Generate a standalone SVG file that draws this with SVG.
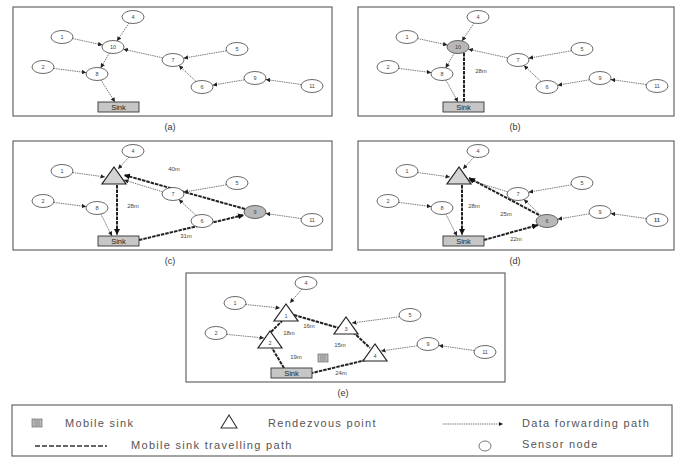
<svg xmlns="http://www.w3.org/2000/svg" width="682" height="459" viewBox="0 0 682 459">
<defs>
<style>
.frame{fill:#fff;stroke:#666;stroke-width:1.2}
.data{stroke:#444;stroke-width:.7;stroke-dasharray:1.5 .8;fill:none;marker-end:url(#arr)}
.travel{stroke:#222;stroke-width:2;stroke-dasharray:3.5 1;fill:none}
.tarrow{marker-end:url(#tarr)}
.sn{fill:#fff;stroke:#444;stroke-width:.8}
.ms{fill:#b8b8b8;stroke:#444;stroke-width:.8}
.rp{fill:#d4d4d4;stroke:#222;stroke-width:1.2}
.rpw{fill:#fff;stroke:#222;stroke-width:1.2}
.sink{fill:#c6c6c6;stroke:#333;stroke-width:.9}
.nl{font-family:"Liberation Sans",Arial,sans-serif;font-size:5.5px;fill:#444;text-anchor:middle}
.sl{font-family:"Liberation Sans",Arial,sans-serif;font-size:7.5px;fill:#222;text-anchor:middle}
.dl{font-family:"Liberation Sans",Arial,sans-serif;font-size:6px;fill:#444;text-anchor:middle}
.cap{font-family:"Liberation Sans",Arial,sans-serif;font-size:9px;fill:#333;text-anchor:middle}
.lg{font-family:"Liberation Sans",Arial,sans-serif;font-size:11px;fill:#555;letter-spacing:1.3px}
</style>
<marker id="arr" viewBox="0 0 6 6" refX="6" refY="3" markerWidth="4.5" markerHeight="4.5" markerUnits="userSpaceOnUse" orient="auto"><path d="M0,0 L6,3 L0,6 z" fill="#222"/></marker>
<marker id="tarr" viewBox="0 0 6 6" refX="6" refY="3" markerWidth="6" markerHeight="6" markerUnits="userSpaceOnUse" orient="auto"><path d="M0,0 L6,3 L0,6 z" fill="#111"/></marker>
<g id="msicon"><rect x="-5" y="-4" width="10" height="8" fill="#bbb" stroke="#555" stroke-width=".6"/><path d="M-3,-2 H3 M-3,0 H3 M-3,2 H3" stroke="#666" stroke-width=".5"/></g>
</defs>
<rect width="682" height="459" fill="#fff"/>

<!-- Panel (a) -->
<g id="panel-a">
<rect class="frame" x="13" y="7" width="319" height="109"/>
<text class="cap" x="170" y="130">(a)</text>
<g id="a-connectors">
<line class="data" x1="72.5" y1="38.5" x2="102.5" y2="45"/>
<line class="data" x1="129" y1="23" x2="117" y2="41"/>
<line class="data" x1="162.6" y1="57.8" x2="123.4" y2="49.2"/>
<line class="data" x1="109.4" y1="53.1" x2="100.6" y2="67.9"/>
<line class="data" x1="53.8" y1="68.4" x2="86.2" y2="72.6"/>
<line class="data" x1="100.9" y1="80.1" x2="115" y2="102"/>
<line class="data" x1="226.4" y1="50.8" x2="183.6" y2="58.2"/>
<line class="data" x1="196.1" y1="81.5" x2="178.9" y2="65.5"/>
<line class="data" x1="244.4" y1="79.8" x2="212.6" y2="85.2"/>
<line class="data" x1="301.2" y1="84.5" x2="265.8" y2="79.5"/>
</g>
<g id="a-n4"><ellipse class="sn" cx="133" cy="17" rx="11" ry="6.5"/><text class="nl" x="133" y="19">4</text></g>
<g id="a-n1"><ellipse class="sn" cx="62" cy="37" rx="11" ry="6.5"/><text class="nl" x="62" y="39">1</text></g>
<g id="a-n10"><ellipse class="sn" cx="113" cy="47" rx="11" ry="6.5"/><text class="nl" x="113" y="49">10</text></g>
<g id="a-n2"><ellipse class="sn" cx="43" cy="67" rx="11" ry="6.5"/><text class="nl" x="43" y="69">2</text></g>
<g id="a-n8"><ellipse class="sn" cx="97" cy="74" rx="11" ry="6.5"/><text class="nl" x="97" y="76">8</text></g>
<g id="a-n7"><ellipse class="sn" cx="173" cy="60" rx="11" ry="6.5"/><text class="nl" x="173" y="62">7</text></g>
<g id="a-n5"><ellipse class="sn" cx="237" cy="49" rx="11" ry="6.5"/><text class="nl" x="237" y="51">5</text></g>
<g id="a-n6"><ellipse class="sn" cx="202" cy="87" rx="11" ry="6.5"/><text class="nl" x="202" y="89">6</text></g>
<g id="a-n9"><ellipse class="sn" cx="255" cy="78" rx="11" ry="6.5"/><text class="nl" x="255" y="80">9</text></g>
<g id="a-n11"><ellipse class="sn" cx="312" cy="86" rx="11" ry="6.5"/><text class="nl" x="312" y="88">11</text></g>
<g id="a-sink"><rect class="sink" x="98" y="102" width="41" height="10"/><text class="sl" x="118.5" y="109.8">Sink</text></g>
</g>

<!-- Panel (b) -->
<g id="panel-b" transform="translate(345,0)">
<rect class="frame" x="13" y="7" width="316" height="109"/>
<text class="cap" x="170" y="130">(b)</text>
<g id="b-connectors">
<line class="data" x1="72.5" y1="38.5" x2="102.5" y2="45"/>
<line class="data" x1="129" y1="23" x2="117" y2="41"/>
<line class="data" x1="162.6" y1="57.8" x2="123.4" y2="49.2"/>
<line class="data" x1="109.4" y1="53.1" x2="100.6" y2="67.9"/>
<line class="data" x1="53.8" y1="68.4" x2="86.2" y2="72.6"/>
<line class="data" x1="100.9" y1="80.1" x2="113" y2="102"/>
<line class="data" x1="226.4" y1="50.8" x2="183.6" y2="58.2"/>
<line class="data" x1="196.1" y1="81.5" x2="178.9" y2="65.5"/>
<line class="data" x1="244.4" y1="79.8" x2="212.6" y2="85.2"/>
<line class="data" x1="301.2" y1="84.5" x2="265.8" y2="79.5"/>
<line class="travel" x1="119" y1="53" x2="119" y2="102"/>
<text class="dl" x="136" y="73">28m</text>
</g>
<g id="b-n4"><ellipse class="sn" cx="133" cy="17" rx="11" ry="6.5"/><text class="nl" x="133" y="19">4</text></g>
<g id="b-n1"><ellipse class="sn" cx="62" cy="37" rx="11" ry="6.5"/><text class="nl" x="62" y="39">1</text></g>
<g id="b-ms"><ellipse class="ms" cx="113" cy="47" rx="11" ry="6.5"/><text class="nl" x="113" y="49">10</text></g>
<g id="b-n2"><ellipse class="sn" cx="43" cy="67" rx="11" ry="6.5"/><text class="nl" x="43" y="69">2</text></g>
<g id="b-n8"><ellipse class="sn" cx="97" cy="74" rx="11" ry="6.5"/><text class="nl" x="97" y="76">8</text></g>
<g id="b-n7"><ellipse class="sn" cx="173" cy="60" rx="11" ry="6.5"/><text class="nl" x="173" y="62">7</text></g>
<g id="b-n5"><ellipse class="sn" cx="237" cy="49" rx="11" ry="6.5"/><text class="nl" x="237" y="51">5</text></g>
<g id="b-n6"><ellipse class="sn" cx="202" cy="87" rx="11" ry="6.5"/><text class="nl" x="202" y="89">6</text></g>
<g id="b-n9"><ellipse class="sn" cx="255" cy="78" rx="11" ry="6.5"/><text class="nl" x="255" y="80">9</text></g>
<g id="b-n11"><ellipse class="sn" cx="312" cy="86" rx="11" ry="6.5"/><text class="nl" x="312" y="88">11</text></g>
<g id="b-sink"><rect class="sink" x="98" y="102" width="41" height="10"/><text class="sl" x="118.5" y="109.8">Sink</text></g>
</g>

<!-- Panel (c) -->
<g id="panel-c" transform="translate(0,134)">
<rect class="frame" x="13" y="7" width="319" height="109"/>
<text class="cap" x="170" y="130">(c)</text>
<g id="c-connectors">
<line class="data" x1="72.5" y1="38.5" x2="105" y2="43"/>
<line class="data" x1="129" y1="23" x2="118" y2="35"/>
<line class="data" x1="162.6" y1="57.8" x2="124" y2="46"/>
<line class="data" x1="53.8" y1="68.4" x2="86.2" y2="72.6"/>
<line class="data" x1="100.9" y1="80.1" x2="112" y2="102"/>
<line class="data" x1="226.4" y1="50.8" x2="183.6" y2="58.2"/>
<line class="data" x1="196.1" y1="81.5" x2="178.9" y2="65.5"/>
<line class="data" x1="301.2" y1="84.5" x2="265.8" y2="79.5"/>
<line class="travel tarrow" x1="117" y1="51" x2="117" y2="101"/>
<line class="travel tarrow" x1="245" y1="75" x2="124" y2="41"/>
<line class="travel tarrow" x1="139" y1="106" x2="244" y2="81"/>
<text class="dl" x="174" y="37">40m</text>
<text class="dl" x="133" y="74">28m</text>
<text class="dl" x="186" y="104">31m</text>
</g>
<g id="c-n4"><ellipse class="sn" cx="133" cy="17" rx="11" ry="6.5"/><text class="nl" x="133" y="19">4</text></g>
<g id="c-n1"><ellipse class="sn" cx="62" cy="37" rx="11" ry="6.5"/><text class="nl" x="62" y="39">1</text></g>
<g id="c-rp"><polygon class="rp" points="114,33 102,50 126,50"/></g>
<g id="c-n2"><ellipse class="sn" cx="43" cy="67" rx="11" ry="6.5"/><text class="nl" x="43" y="69">2</text></g>
<g id="c-n8"><ellipse class="sn" cx="97" cy="74" rx="11" ry="6.5"/><text class="nl" x="97" y="76">8</text></g>
<g id="c-n7"><ellipse class="sn" cx="173" cy="60" rx="11" ry="6.5"/><text class="nl" x="173" y="62">7</text></g>
<g id="c-n5"><ellipse class="sn" cx="237" cy="49" rx="11" ry="6.5"/><text class="nl" x="237" y="51">5</text></g>
<g id="c-n6"><ellipse class="sn" cx="202" cy="87" rx="11" ry="6.5"/><text class="nl" x="202" y="89">6</text></g>
<g id="c-ms"><ellipse class="ms" cx="255" cy="78" rx="11" ry="6.5"/><text class="nl" x="255" y="80">9</text></g>
<g id="c-n11"><ellipse class="sn" cx="312" cy="86" rx="11" ry="6.5"/><text class="nl" x="312" y="88">11</text></g>
<g id="c-sink"><rect class="sink" x="98" y="102" width="41" height="10"/><text class="sl" x="118.5" y="109.8">Sink</text></g>
</g>

<!-- Panel (d) -->
<g id="panel-d" transform="translate(345,134)">
<rect class="frame" x="13" y="7" width="316" height="109"/>
<text class="cap" x="170" y="130">(d)</text>
<g id="d-connectors">
<line class="data" x1="72.5" y1="38.5" x2="105" y2="43"/>
<line class="data" x1="129" y1="23" x2="118" y2="35"/>
<line class="data" x1="162.6" y1="57.8" x2="124" y2="46"/>
<line class="data" x1="53.8" y1="68.4" x2="86.2" y2="72.6"/>
<line class="data" x1="100.9" y1="80.1" x2="112" y2="102"/>
<line class="data" x1="226.4" y1="50.8" x2="183.6" y2="58.2"/>
<line class="data" x1="196.1" y1="81.5" x2="178.9" y2="65.5"/>
<line class="data" x1="244.4" y1="79.8" x2="212.6" y2="85.2"/>
<line class="data" x1="301.2" y1="84.5" x2="265.8" y2="79.5"/>
<line class="travel tarrow" x1="117" y1="51" x2="117" y2="101"/>
<line class="travel tarrow" x1="194" y1="81" x2="124" y2="44"/>
<line class="travel tarrow" x1="139" y1="106" x2="193" y2="91"/>
<text class="dl" x="129" y="74">28m</text>
<text class="dl" x="161" y="82">25m</text>
<text class="dl" x="171" y="107">22m</text>
</g>
<g id="d-n4"><ellipse class="sn" cx="133" cy="17" rx="11" ry="6.5"/><text class="nl" x="133" y="19">4</text></g>
<g id="d-n1"><ellipse class="sn" cx="62" cy="37" rx="11" ry="6.5"/><text class="nl" x="62" y="39">1</text></g>
<g id="d-rp"><polygon class="rp" points="114,33 102,50 126,50"/></g>
<g id="d-n2"><ellipse class="sn" cx="43" cy="67" rx="11" ry="6.5"/><text class="nl" x="43" y="69">2</text></g>
<g id="d-n8"><ellipse class="sn" cx="97" cy="74" rx="11" ry="6.5"/><text class="nl" x="97" y="76">8</text></g>
<g id="d-n7"><ellipse class="sn" cx="173" cy="60" rx="11" ry="6.5"/><text class="nl" x="173" y="62">7</text></g>
<g id="d-n5"><ellipse class="sn" cx="237" cy="49" rx="11" ry="6.5"/><text class="nl" x="237" y="51">5</text></g>
<g id="d-ms"><ellipse class="ms" cx="202" cy="87" rx="11" ry="6.5"/><text class="nl" x="202" y="89">6</text></g>
<g id="d-n9"><ellipse class="sn" cx="255" cy="78" rx="11" ry="6.5"/><text class="nl" x="255" y="80">9</text></g>
<g id="d-n11"><ellipse class="sn" cx="312" cy="86" rx="11" ry="6.5" stroke-width="1.2"/><text class="nl" x="312" y="88" font-weight="bold">11</text></g>
<g id="d-sink"><rect class="sink" x="98" y="102" width="41" height="10"/><text class="sl" x="118.5" y="109.8">Sink</text></g>
</g>

<!-- Panel (e) -->
<g id="panel-e" transform="translate(173,266)">
<rect class="frame" x="13" y="7" width="319" height="109"/>
<text class="cap" x="170" y="130">(e)</text>
<g id="e-connectors">
<line class="data" x1="72.5" y1="38.5" x2="107" y2="42"/>
<line class="data" x1="129" y1="23" x2="117" y2="37"/>
<line class="data" x1="53.8" y1="68.4" x2="91" y2="72"/>
<line class="data" x1="226.4" y1="50.8" x2="179" y2="57"/>
<line class="data" x1="244.4" y1="79.8" x2="208" y2="85"/>
<line class="data" x1="301.2" y1="84.5" x2="265.8" y2="79.5"/>
<line class="travel" x1="111" y1="102" x2="99" y2="82"/>
<line class="travel" x1="98" y1="66" x2="109" y2="55"/>
<line class="travel" x1="121" y1="49" x2="166" y2="62"/>
<line class="travel" x1="180" y1="66" x2="197" y2="82"/>
<line class="travel" x1="193" y1="94" x2="139" y2="107"/>
<text class="dl" x="116" y="69">18m</text>
<text class="dl" x="136" y="62">16m</text>
<text class="dl" x="167" y="81">15m</text>
<text class="dl" x="123" y="93">19m</text>
<text class="dl" x="168" y="109">24m</text>
</g>
<g id="e-n4"><ellipse class="sn" cx="133" cy="17" rx="11" ry="6.5"/><text class="nl" x="133" y="19">4</text></g>
<g id="e-n1"><ellipse class="sn" cx="62" cy="37" rx="11" ry="6.5"/><text class="nl" x="62" y="39">1</text></g>
<g id="e-n2"><ellipse class="sn" cx="43" cy="67" rx="11" ry="6.5"/><text class="nl" x="43" y="69">2</text></g>
<g id="e-n5"><ellipse class="sn" cx="237" cy="49" rx="11" ry="6.5"/><text class="nl" x="237" y="51">5</text></g>
<g id="e-n9"><ellipse class="sn" cx="255" cy="78" rx="11" ry="6.5"/><text class="nl" x="255" y="80">9</text></g>
<g id="e-n11"><ellipse class="sn" cx="312" cy="86" rx="11" ry="6.5"/><text class="nl" x="312" y="88">11</text></g>
<g id="e-rp1"><polygon class="rpw" points="113,38 101,55 125,55"/><text class="nl" x="113" y="52">1</text></g>
<g id="e-rp2"><polygon class="rpw" points="97,65 85,82 109,82"/><text class="nl" x="97" y="79">2</text></g>
<g id="e-rp3"><polygon class="rpw" points="173,51 161,68 185,68"/><text class="nl" x="173" y="65">3</text></g>
<g id="e-rp4"><polygon class="rpw" points="202,78 190,95 214,95"/><text class="nl" x="202" y="92">4</text></g>
<g id="e-ms"><use href="#msicon" x="150" y="92"/></g>
<g id="e-sink"><rect class="sink" x="98" y="102" width="41" height="10"/><text class="sl" x="118.5" y="109.8">Sink</text></g>
</g>

<!-- Legend -->
<g id="legend">
<rect class="frame" x="12" y="405" width="660" height="51"/>
<g id="lg-ms"><use href="#msicon" x="37" y="423"/><text class="lg" x="65" y="427">Mobile sink</text></g>
<g id="lg-rp"><polygon points="229,415 221,428 237,428" fill="#fff" stroke="#333" stroke-width="1.1"/><text class="lg" x="268" y="427">Rendezvous point</text></g>
<g id="lg-data"><line class="data" x1="443" y1="424" x2="503" y2="424"/><text class="lg" x="522" y="427">Data forwarding path</text></g>
<g id="lg-travel"><line x1="35" y1="446" x2="107" y2="446" stroke="#333" stroke-width="1.4" stroke-dasharray="5 2"/><text class="lg" x="131" y="449">Mobile sink travelling path</text></g>
<g id="lg-sn"><ellipse cx="485" cy="446" rx="6" ry="5" fill="#fff" stroke="#555" stroke-width=".8"/><text class="lg" x="522" y="448">Sensor node</text></g>
</g>
</svg>
